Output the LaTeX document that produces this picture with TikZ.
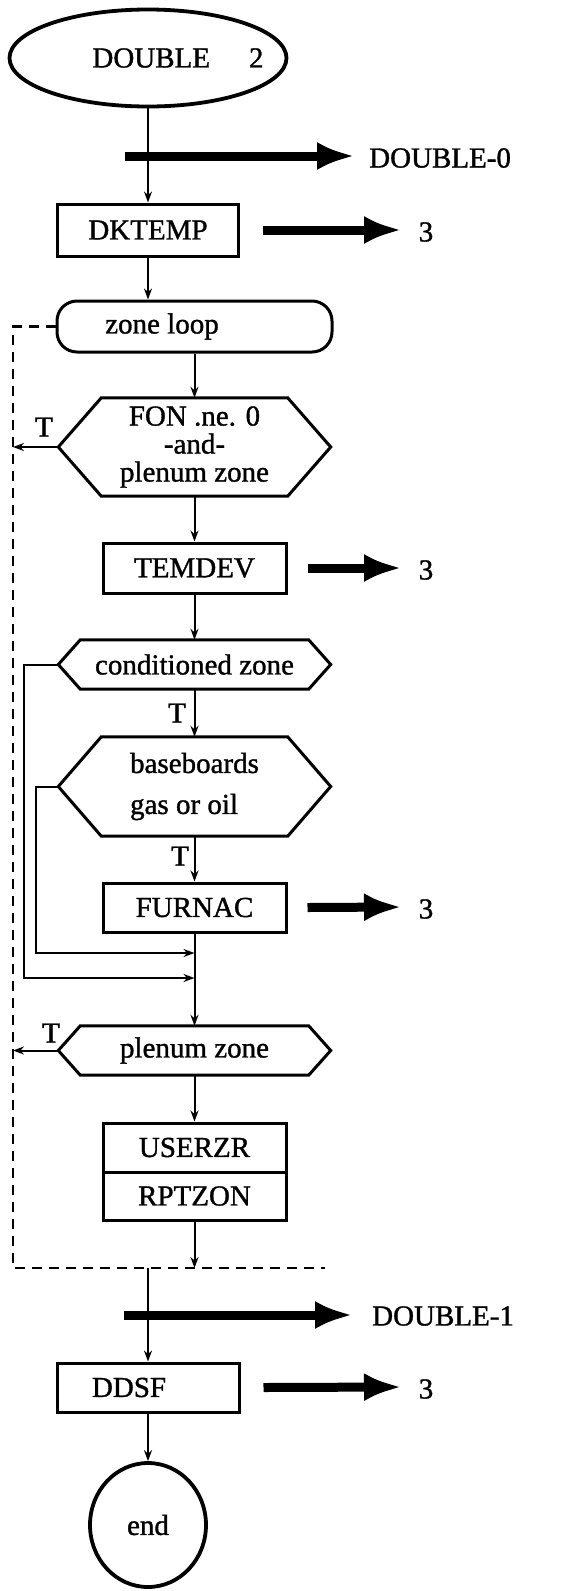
\documentclass[tikz,border=0pt]{standalone}
\usepackage{fontspec}
\setmainfont{Liberation Serif}[FakeBold=1.2]
\usetikzlibrary{arrows.meta,shapes.geometric,calc}
\newcommand\hexoutline[2]{\draw[line width=3pt, line join=miter] (#1.west) -- ([xshift=#2]#1.north west) -- ([xshift=-#2]#1.north east) -- (#1.east) -- ([xshift=-#2]#1.south east) -- ([xshift=#2]#1.south west) -- cycle;}
\begin{document}
\begin{tikzpicture}[x=1pt,y=-1pt,
  every node/.style={font=\fontsize{29pt}{28pt}\selectfont, inner sep=0pt},
  box/.style={draw, line width=3pt, minimum width=183pt, minimum height=50pt},
  hexnode/.style={minimum width=272pt},
  flow/.style={line width=2pt, -{Stealth[length=11pt,width=8pt]}},
  bigarrow/.style={line width=9pt, -{Latex[length=38pt,width=28pt]}},
  loopline/.style={line width=2.4pt, dash pattern=on 10pt off 7pt},
]
\path[use as bounding box] (0,0) rectangle (561,1591);

% nodes
\node[ellipse, draw, line width=3.8pt, minimum width=277pt, minimum height=97pt,
      label={[xshift=30pt]center:DOUBLE\hspace{39pt}2}] (start) at (148,58) {};
\node[box, minimum width=181pt, minimum height=52pt] (dktemp) at (148,230) {DKTEMP};
\node[draw, line width=3pt, rounded corners=20pt, minimum width=275pt, minimum height=51pt] (zl) at (194.5,326.5) {zone loop\hspace*{65pt}};
\node[hexnode, minimum height=98pt, align=center] (fon) at (194.5,447) {FON .ne. 0\\-and-\\plenum zone};
\hexoutline{fon}{43pt}
\node[box] (temdev) at (194.5,568) {TEMDEV};
\node[hexnode, minimum height=49pt] (cond) at (194.5,664.5) {conditioned zone};
\hexoutline{cond}{22pt}
\node[hexnode, minimum height=99pt, align=left] (base) at (194.5,786.5) {baseboards\\[13pt]gas or oil};
\hexoutline{base}{43pt}
\node[box, minimum height=49pt] (furnac) at (194.5,907.5) {FURNAC};
\node[hexnode, minimum height=49pt] (plenum) at (194.5,1050.5) {plenum zone};
\hexoutline{plenum}{22pt}
\node[box, minimum height=49pt] (userzr) at (194.5,1147.5) {USERZR};
\node[box, minimum height=48pt] (rptzon) at (194.5,1196) {RPTZON};
\node[box, minimum width=182pt, minimum height=49pt] (ddsf) at (148,1387.5) {DDSF\hspace*{38pt}};
\node[ellipse, draw, line width=3.8pt, minimum width=116pt, minimum height=124pt] (end) at (148,1525) {end};

% labels
\node (d0) [anchor=west] at (369,158) {DOUBLE-0};
\node (d1) [anchor=west] at (372,1316) {DOUBLE-1};
\node (n3a) at (426,232) {3};
\node (n3b) at (426,570) {3};
\node (n3c) at (426,909) {3};
\node (n3d) at (426,1389) {3};
\node (t1) at (44,427) {T};
\node (t2) at (177,713) {T};
\node (t3) at (180,856) {T};
\node (t4) at (51,1033) {T};

% coordinates
\coordinate (fonT) at (13,447);
\coordinate (plT) at (13,1050.5);
\coordinate (c1) at (24,664.5);
\coordinate (c2) at (24,978);
\coordinate (b1) at (36,786.5);
\coordinate (b2) at (36,953);
\coordinate (lb) at (13,1268);
\coordinate (lr) at (325,1268);
\coordinate (lexit) at (148,1268);
\coordinate (a0s) at (125,156);
\coordinate (a0e) at (355,156);
\coordinate (a1s) at (124,1315);
\coordinate (a1e) at (353,1315);
\coordinate (e3a) at (402,230);
\coordinate (e3b) at (402,568);
\coordinate (e3c) at (402,907);
\coordinate (e3d) at (402,1387);

% thin flow connectors
\draw[flow] (start.south) -- (start.south |- dktemp.north);
\draw[flow] (dktemp.south) -- (dktemp.south |- zl.north);
\draw[flow] (zl.south) -- (fon.north);
\draw[flow] (fon.west) -- (fonT);
\draw[flow] (fon.south) -- (temdev.north);
\draw[flow] (temdev.south) -- (cond.north);
\draw[flow] (cond.south) -- (base.north);
\draw[flow] (base.south) -- (furnac.north);
\draw[flow] (furnac.south) -- (plenum.north);
\draw[flow] (cond.west) -- (c1) -- (c2) -- (c2 -| furnac.south);
\draw[flow] (base.west) -- (b1) -- (b2) -- (b2 -| furnac.south);
\draw[flow] (plenum.west) -- (plT);
\draw[flow] (plenum.south) -- (userzr.north);
\draw[flow] (rptzon.south) -- (rptzon.south |- lb);
\draw[flow] (lexit) -- (lexit |- ddsf.north);
\draw[flow] (ddsf.south) -- (end.north);

% loop boundary
\draw[loopline] (zl.west) -- (zl.west -| lb) -- (lb) -- (lr);

% thick arrows
\draw[bigarrow] (a0s) -- (a0e);
\draw[bigarrow] (a1s) -- (a1e);
\draw[bigarrow] ([xshift=23pt]dktemp.east) -- (e3a);
\draw[bigarrow] ([xshift=20pt]temdev.east) -- (e3b);
\draw[bigarrow] ([xshift=20pt]furnac.east) -- (e3c);
\draw[bigarrow] ([xshift=23pt]ddsf.east) -- (e3d);
\end{tikzpicture}
\end{document}
